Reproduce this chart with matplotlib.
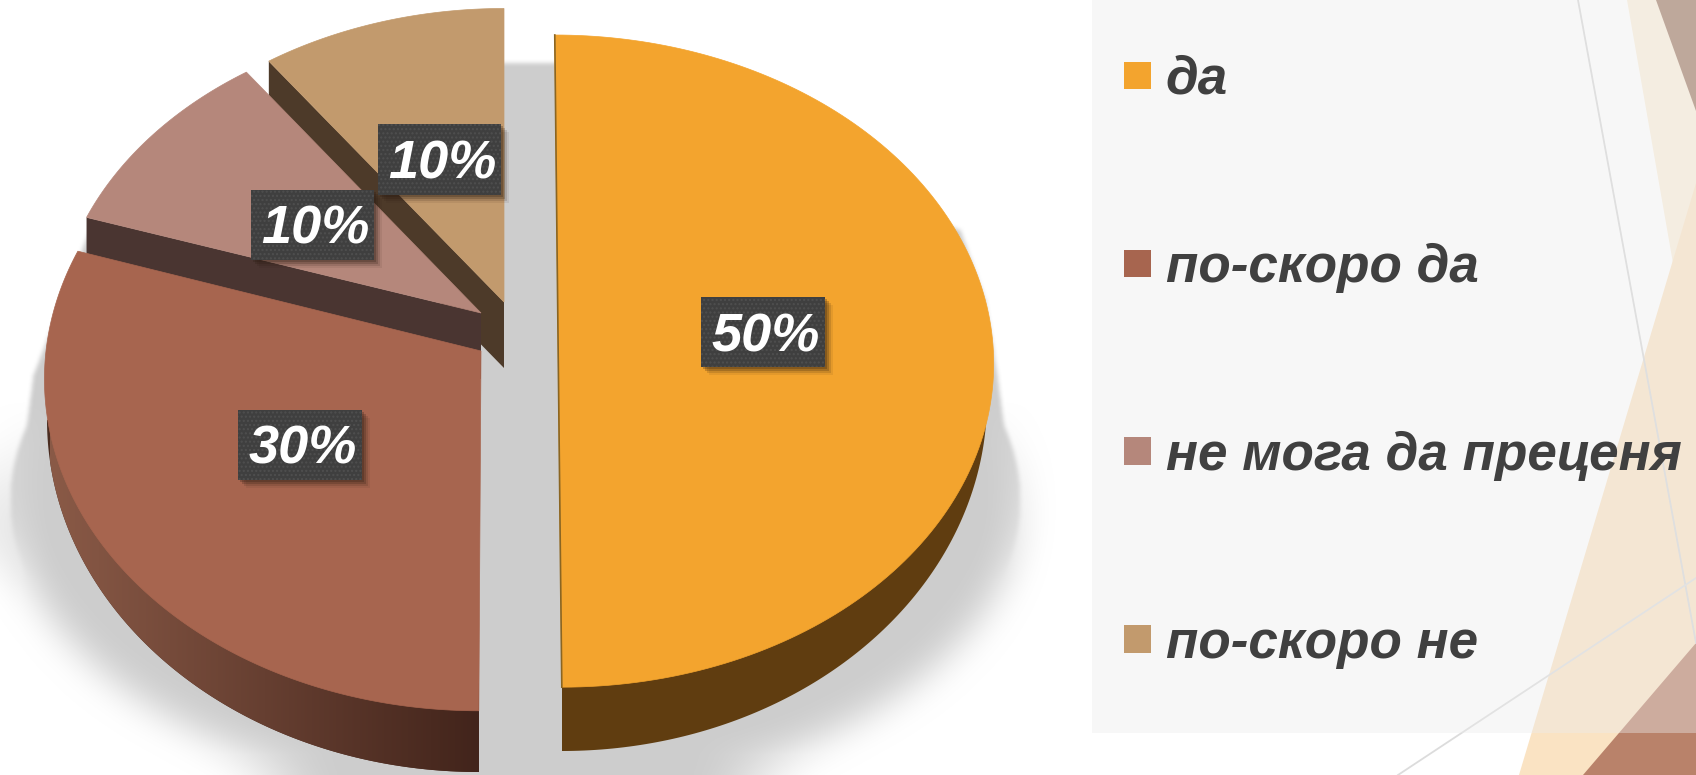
import numpy as np
import matplotlib
matplotlib.use("Agg")
import matplotlib.pyplot as plt
from matplotlib.patches import Polygon, Rectangle, Patch
from matplotlib.path import Path
from matplotlib.font_manager import FontProperties

# ---- data ----
categories = ["да", "по-скоро да", "не мога да преценя", "по-скоро не"]
values = [50, 30, 10, 10]

# ---- style ----
top_colors = ["#f3a42e", "#a7654f", "#b5877b", "#c29a6d"]
wall_colors = ["#603d10", "#4a2c20", "#4a3531", "#4d3a29"]
# per slice: apex x, apex y, rx, ry, shear
geom = [(558, 335, 434, 324, 3.5), (481, 351, 435, 331, -2), (481, 313, 425, 317, 0), (504, 302, 426, 317, 0)]
# outer lower edge of the rim: centre x, centre y, rx, ry (orange and brown slices only)
rim_geom = {0: (562, 400, 425, 351), 1: (479, 420, 432, 352)}
# slices whose cut face is turned towards the viewer
wall_slices = {2, 3}
DEPTH = [63, 62, 66, 66]
P = 0.08
label_boxes = [(701, 297, 124, 70), (238, 410, 124, 70), (251, 190, 123, 70), (378, 124, 123, 71)]

W, H = 1696, 775
fig = plt.figure(figsize=(W / 100, H / 100), dpi=100, facecolor="white")
ax = fig.add_axes([0, 0, 1, 1])
ax.axis("off")
plt.rcParams["hatch.linewidth"] = 1.0


def box_blur(a, r):
    for axis in (0, 1):
        c = np.cumsum(np.insert(a, 0, 0, axis=axis), axis=axis)
        n = a.shape[axis]
        lo = np.clip(np.arange(n) - r, 0, n)
        hi = np.clip(np.arange(n) + r + 1, 0, n)
        if axis == 0:
            a = (c[hi, :] - c[lo, :]) / (hi - lo)[:, None]
        else:
            a = (c[:, hi] - c[:, lo]) / (hi - lo)[None, :]
    return a


# ---- decoration behind the legend panel ----
decor = [
    ([(1627, 0), (1696, 0), (1696, 395)], "#faeeda"),
    ([(1519, 775), (1696, 183), (1696, 775)], "#fae3c3"),
    ([(1656, 0), (1696, 0), (1696, 111)], "#a07b66"),
    ([(1583, 775), (1696, 643), (1696, 775)], "#b9826a"),
]
for pts, c in decor:
    ax.add_patch(Polygon(pts, closed=True, fc=c, ec="none", zorder=1))
ax.plot([1578, 1696], [0, 643], color="#d6d6d6", lw=1.3, zorder=1.5)
ax.plot([1398, 1696], [775, 578], color="#dcdcdc", lw=1.3, zorder=1.5)
ax.add_patch(Rectangle((1092, 0), 604, 733, fc="#ededed", alpha=0.4, ec="none", zorder=2))

# ---- soft shadow under the pie ----
yy, xx = np.mgrid[0:H, 0:1100]
mask = (((xx - 515) / 505.0) ** 2 + ((yy - 500) / 297.0) ** 2 <= 1).astype(float)
hull = Path([(95, 215), (504, 62), (560, 62), (960, 230), (985, 300), (997, 375), (1016, 520),
             (14, 520), (33, 375), (95, 215)])
inside = hull.contains_points(np.c_[xx.ravel(), yy.ravel()]).reshape(xx.shape)
mask = np.maximum(mask, inside.astype(float))
sharp = box_blur(box_blur(mask, 2), 2)
soft = box_blur(box_blur(mask, 20), 20)
w = np.clip((yy - 400) / 180.0, 0, 1)
alpha = sharp * (1 - w) + soft * w
rgba = np.zeros(mask.shape + (4,))
rgba[..., :3] = 205 / 255
rgba[..., 3] = alpha
ax.imshow(rgba, extent=(0, 1100, H, 0), zorder=3, interpolation="bilinear", aspect="auto")


# ---- pie slices ----
def project(g, theta):
    cx, cy, rx, ry, s = g
    u, v = np.cos(theta), np.sin(theta)
    den = 1 + P * v
    return cx + rx * u / den - s * v / den, cy - ry * v / den


fractions = np.array(values, dtype=float) / sum(values)
starts = 90 - 360 * np.concatenate(([0], np.cumsum(fractions)[:-1]))
ends = starts - 360 * fractions

z = 10
for i in [3, 2, 1, 0]:
    th = np.radians(np.linspace(starts[i], ends[i], 160))
    x, y = project(geom[i], th)
    cx, cy = geom[i][0], geom[i][1]
    d = DEPTH[i]
    if i in wall_slices:
        wall = [(cx, cy), (x[0], y[0]), (x[0], y[0] + d), (cx, cy + d)]
        ax.add_patch(Polygon(wall, closed=True, fc=wall_colors[i], ec="none", zorder=z))
    if i in rim_geom:
        # the part of the rim facing the viewer: the lower half of the slice's arc
        rcx, rcy, rrx, rry = rim_geom[i]
        a0, a1 = min(starts[i], 0), max(ends[i], -180)
        t = np.radians(np.linspace(a0, a1, 120))
        rx_pts, ry_pts = rcx + rrx * np.cos(t), rcy - rry * np.sin(t)
        rim = np.r_[np.c_[rx_pts, ry_pts], [(rcx, rcy)]]
        rim_patch = Polygon(rim, closed=True, fc=wall_colors[i], ec="none", zorder=z)
        ax.add_patch(rim_patch)
        if i == 1:
            # brown rim shading runs from lighter on the left to dark on the right
            grad = np.linspace(0, 1, 256)[None, :, None]
            c0 = np.array([0x8a, 0x5a, 0x47]) / 255
            c1 = np.array([0x42, 0x24, 0x1b]) / 255
            img = ax.imshow(c0 * (1 - grad) + c1 * grad, extent=(50, 480, H, 0), zorder=z + 0.1, aspect="auto")
            img.set_clip_path(rim_patch)
    top = np.r_[[(cx, cy)], np.c_[x, y]]
    ax.add_patch(Polygon(top, closed=True, fc=top_colors[i], ec=top_colors[i], lw=0.5, zorder=z + 0.2))
    if i == 0:
        ax.plot([x[0], x[-1]], [y[0], y[-1]], color="#8a6522", lw=1.2, zorder=z + 0.3)
    z += 1

# ---- value labels ----
label_fp = FontProperties(family="Liberation Sans", weight="bold", style="italic", size=39)
for v, (bx, by, bw, bh) in zip(values, label_boxes):
    for off, a in ((8, 0.08), (6, 0.14), (4, 0.22), (2, 0.25)):
        ax.add_patch(Rectangle((bx + off, by + off), bw, bh, fc="#2a1a10", alpha=a, ec="none", zorder=20))
    ax.add_patch(Rectangle((bx, by), bw, bh, fc="#3f3f3f", ec="#4f4f4f", lw=0, hatch="....", zorder=21))
    ax.text(bx + bw / 2 + 3, by + bh / 2 + 19, f"{v}%", color="white", fontproperties=label_fp,
            ha="center", va="baseline", zorder=22)

# ---- legend ----
legend_fp = FontProperties(family="Liberation Sans", weight="bold", style="italic", size=38.2)
handles = [Patch(fc=c, ec="none") for c in top_colors]
leg = ax.legend(handles, categories, loc="upper left", bbox_to_anchor=(1124, 55), bbox_transform=ax.transData,
                frameon=False, prop=legend_fp, labelcolor="#404040", labelspacing=2.6,
                handlelength=0.51, handleheight=0.408, handletextpad=0.28, borderpad=0, borderaxespad=0)
leg.set_zorder(30)

ax.set_xlim(0, W)
ax.set_ylim(H, 0)
fig.savefig("out.png", dpi=100, facecolor="white")
